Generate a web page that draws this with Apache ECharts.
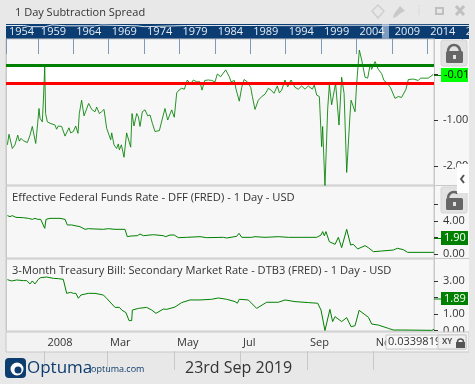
<!DOCTYPE html>
<html lang="en">
  <head>
    <meta charset="UTF-8" />
    <title>1 Day Subtraction Spread</title>
    <script src="https://cdn.jsdelivr.net/npm/echarts@6/dist/echarts.min.js"></script>
    <style>
      body { margin: 0; background: #e8e8e8; }
    </style>
  </head>

  <body>
    <div id="main" style="width: 475px; height: 384px"></div>

    <script type="text/javascript">
      // x values are days from the start of 2008
      var spreadDays = [-33.8,-32.3,-29.3,-26.9,-24.4,-22.9,-21.4,-19.3,-17.8,-15.6,-13.2,-11.1,-9.6,-8,-6.2,-5,-4.1,-2,-1,0.2,1,2.6,5,9.6,11,12.6,15.6,18.7,20.2,22.3,23.8,26.3,28.4,30.5,31.7,33.8,36,37.8,40.2,43,46,47.5,50,52,54.2,56.6,58.1,60.3,61.2,63.3,65.7,67.2,68.2,70,72.4,74.8,78.5,79.7,81.5,84,85.5,87,89.1,91.5,94,96.1,98.2,100.6,104.6,108.2,109.7,112.2,115.8,118.2,120.4,122.5,124.9,127.4,130,133,135.6,138.6,141.6,143.4,145.9,149.2,152.2,155.3,157.4,160.4,165,168.3,169.9,172.9,174.4,176.2,177.4,179.6,181.7,184.7,187.8,189.3,191.7,194.7,197.8,200.8,203.9,206.3,209,212,213.9,216,219,221.5,224.5,228.1,231.2,234.2,237.2,240.2,243.9,245.7,247.9,250.3,252.4,253.3,255.4,257.9,259.4,261.5,263,265.1,268.2,270.6,272.8,275.2,278.2,279.2,282.8,284.3,286.7,288.9,291.9,294.3,296.7,297.9,301,304,307,309.1,312.2,315.2,319.2,322.2,325.2,329.2,331.3,335.8,340.4,342.5,349.5,354];
      var spreadValues = [-1.54,-1.31,-1.62,-1.54,-1.33,-1.46,-1.40,-1.45,-1.43,-1.49,-1.33,-1.14,-1.13,-1.51,-1.07,-0.75,-0.96,-1.04,-0.57,0.16,-0.86,-1.04,-1.07,-1.11,-1.20,-1.13,-1.14,-1.35,-1.36,-1.17,-1.28,-1.25,-1.13,-1.29,-0.86,-0.57,-0.91,-0.91,-0.64,-0.77,-0.82,-0.72,-0.86,-0.82,-0.77,-1.18,-1.20,-1.43,-1.28,-1.54,-1.62,-1.52,-1.65,-1.54,-1.81,-1.28,-1.59,-0.86,-1.13,-0.86,-0.93,-1.14,-0.82,-0.78,-0.91,-0.89,-1.07,-1.25,-1.23,-0.89,-0.75,-1.0,-0.78,-0.94,-0.41,-0.35,-0.31,-0.33,-0.13,-0.22,-0.13,-0.17,-0.17,-0.35,-0.14,-0.13,-0.14,-0.17,0,-0.06,0.09,-0.06,-0.17,-0.14,-0.33,-0.35,-0.59,-0.29,-0.12,-0.17,-0.29,-0.49,-0.77,-0.57,-0.49,-0.44,-0.31,-0.35,-0.42,-0.26,-0.41,-0.35,-0.13,-0.28,-0.13,-0.29,-0.33,-0.26,-0.33,-0.26,-0.33,-0.24,-0.46,-0.49,-1.58,-1.14,-2.45,-0.75,-0.24,-0.67,-0.67,-0.20,-1.11,-0.07,-0.42,-2.14,-0.89,-0.57,-0.82,-0.20,0.52,0.30,-0.07,-0.09,0.22,0.10,0.27,0.10,0.01,-0.14,-0.20,-0.30,-0.53,-0.49,-0.51,-0.33,-0.12,-0.11,-0.14,-0.09,-0.09,-0.01];

      var dffDays = [-33.8,-31.4,-29.3,-26,-19.3,-14.7,-11.1,-8.7,-6.2,-3.5,-1.7,0.2,1.4,5,14.1,18.7,20.8,24.7,27.8,32.3,36.9,39.9,46,53.6,58.1,64.2,73.3,75.4,78.8,84.5,87,90,99.2,108.2,110.4,114.3,118.2,121.9,129.5,141.6,147.6,162.9,165.9,175,177.1,179.6,188.7,191.7,200.8,213,222,247.9,251.8,253.3,254.8,256.3,259.4,264.6,267.6,270.6,275.2,278.8,281.2,285.2,291.9,294.9,299.5,307,317.6,321.3,326.7,330.7,354.7];
      var dffValues = [4.65,4.53,4.65,4.44,4.40,4.32,4.20,4.32,4.20,4.2,4.12,3.11,4.2,4.32,4.32,4.2,3.52,3.52,3.43,3.31,2.99,3.07,3.03,2.99,3.07,2.99,2.99,2.10,2.18,2.22,2.42,2.22,2.34,2.22,2.10,2.30,2.30,1.98,2.02,2.10,1.98,2.02,1.94,2.14,2.51,2.02,2.02,2.10,2.02,2.10,2.02,2.02,2.30,2.71,2.22,2.71,1.49,1.17,2.02,0.77,2.99,1.09,1.17,0.61,1.01,0.77,0.28,0.36,0.48,0.69,0.53,0.2,0.2];

      var tbillDays = [-33.8,-29.9,-25.3,-19.3,-16.2,-13.2,-11.1,-8.7,-5.6,-3.5,-1.7,2,8,12.6,17.1,20.2,23.8,26.3,28.7,30.8,33.2,34.8,39.9,46,53.6,56.6,64.2,68.2,70.3,74.2,77,79.4,80,85.5,93,97.6,101.5,108.2,111.3,118.8,124.9,132.5,141.6,152.2,158.3,165.9,173.5,175.6,177.4,185.6,193.2,202.3,212.9,219,228.1,240.3,248.8,251.8,255.4,259.9,262.4,264.6,270.6,275.2,279.2,282.8,286.5,295,298,304,313.1,317.7,325.2,352.6,354.7];
      var tbillValues = [3.08,3.0,3.06,3.02,3.02,2.82,3.0,2.82,3.1,3.2,3.12,3.24,3.16,3.14,3.1,2.25,2.31,2.25,2.25,1.95,2.15,2.05,2.25,2.25,2.15,1.95,1.4,1.4,1.24,1.08,0.6,0.6,1.24,1.34,1.4,1.24,1.04,1.3,1.28,1.42,1.69,1.85,1.85,1.89,1.97,1.89,1.75,1.65,1.89,1.85,1.34,1.71,1.71,1.85,1.75,1.69,1.65,1.24,0,1.28,0.54,0.84,0.54,0.78,0.23,0.29,1.22,0.8,0.39,0.33,0.13,0.03,0.03,0.01,0.07];

      var upperLevel = 0.19;
      var lowerLevel = -0.2;

      var monthTicks = [0, 57, 118, 178, 239, 299];
      var monthLabels = ["2008", "Mar", "May", "Jul", "Sep", "Nov"];
      var yearTicks = [1954.5, 1959, 1964, 1969, 1974, 1979, 1984, 1989, 1994, 1999, 2004, 2009, 2014, 2019];
      var yearLabels = ["1954", "1959", "1964", "1969", "1974", "1979", "1984", "1989", "1994", "1999", "2004", "2009", "2014", "2"];

      var overviewYears = [1954.5, 1957, 1958, 1960, 1961, 1963, 1967, 1968, 1973, 1974, 1980, 1984, 1990, 1998, 2001, 2007, 2019.9];
      var overviewValues = [0.9, 0.9, 0.82, 0.82, 0.94, 0.88, 0.88, 0.93, 0.88, 0.82, 0.9, 0.9, 0.9, 0.88, 0.92, 0.92, 0.9];

      var spreadTicks = [0, -1, -2];
      var spreadTickLabels = [-1, -2];
      var dffTicks = [0, 2, 4, 6];
      var dffTickLabels = [0, 4];
      var tbillTicks = [0, 1, 2, 3];
      var tbillTickLabels = [0, 1, 3];

      var dayMin = -35.06;
      var dayMax = 354.7;
      var font = "Open Sans";
      var lineGreen = "#008000";
      var rule = "#c8c8c8";

      function pairs(xs, ys) {
        return xs.map(function (x, i) {
          return [x, ys[i]];
        });
      }

      function valueAxis(gridIndex, min, max, ticks, labels) {
        return {
          type: "value",
          gridIndex: gridIndex,
          position: "right",
          min: min,
          max: max,
          splitLine: { show: false },
          axisLine: { show: true, onZero: false, lineStyle: { color: rule } },
          axisTick: { show: true, length: 4, customValues: ticks, lineStyle: { color: "#333" } },
          axisLabel: {
            customValues: labels,
            margin: 9,
            fontFamily: font,
            fontSize: 11,
            color: "#333",
            formatter: function (v) {
              return v.toFixed(2);
            },
          },
        };
      }

      function dayAxis(gridIndex) {
        return { type: "value", gridIndex: gridIndex, min: dayMin, max: dayMax, show: false };
      }

      function lineSeries(name, axisIndex, data) {
        return {
          name: name,
          type: "line",
          xAxisIndex: axisIndex,
          yAxisIndex: axisIndex,
          data: data,
          symbol: "none",
          silent: true,
          lineStyle: { color: lineGreen, width: 1 },
        };
      }

      // little padlock for the price scales
      function lockIcon(x, y, open) {
        return [
          { type: "rect", z: 6, shape: { x: x, y: y, width: 26, height: 26, r: 2 }, style: { fill: "#e2e2e2", stroke: "#d4d4d4" } },
          {
            type: "arc",
            z: 7,
            shape: { cx: x + 13, cy: y + 11, r: 6, startAngle: Math.PI, endAngle: open ? Math.PI * 1.7 : Math.PI * 2 },
            style: { stroke: "#666", lineWidth: 2.5, fill: null },
          },
          { type: "rect", z: 7, shape: { x: x + 5, y: y + 11, width: 17, height: 12, r: 1.5 }, style: { fill: "#666" } },
          { type: "rect", z: 8, shape: { x: x + 12, y: y + 15, width: 3, height: 4 }, style: { fill: "#e2e2e2" } },
        ];
      }

      function priceBox(y, h, fill, color, label) {
        return [
          { type: "rect", z: 6, shape: { x: 434, y: y + h / 2, width: 7, height: 1 }, style: { fill: lineGreen } },
          { type: "rect", z: 6, shape: { x: 441, y: y, width: 27, height: h }, style: { fill: fill } },
          {
            type: "text",
            z: 7,
            x: 444,
            y: y + h / 2,
            style: { text: label, fill: color, font: "11px 'Open Sans'", verticalAlign: "middle" },
          },
        ];
      }

      var chrome = [
        // gutter behind the price scales
        { type: "rect", z: -5, shape: { x: 6, y: 39, width: 463, height: 293 }, style: { fill: "#f7f7f7" } },
        { type: "rect", z: 2, shape: { x: 434, y: 185, width: 35, height: 1 }, style: { fill: rule } },
        { type: "rect", z: 2, shape: { x: 434, y: 258, width: 35, height: 1 }, style: { fill: rule } },
        { type: "rect", z: 2, shape: { x: 6, y: 39, width: 1, height: 312 }, style: { fill: rule } },
        { type: "rect", z: 3, shape: { x: 6, y: 332, width: 463, height: 20 }, style: { fill: "#f3f3f3", stroke: rule } },
        { type: "rect", z: 9, shape: { x: 469, y: 0, width: 6, height: 384 }, style: { fill: "#e8e8e8" } },

        // window buttons
        { type: "polygon", z: 6, shape: { points: [[378, 5], [384, 11], [378, 18], [372, 11]] }, style: { fill: null, stroke: "#cfcfcf", lineWidth: 1.5 } },
        { type: "polygon", z: 6, shape: { points: [[400, 6], [405, 11], [401, 13], [396, 17], [393, 18], [394, 14], [397, 10]] }, style: { fill: "#c8c8c8" } },
        { type: "text", z: 6, x: 417, y: 5, style: { text: "i", fill: "#e0e0e0", font: "bold 13px 'Open Sans'" } },
        { type: "rect", z: 6, shape: { x: 436, y: 8, width: 7, height: 6 }, style: { fill: null, stroke: "#c0c0c0", lineWidth: 2 } },
        { type: "line", z: 6, shape: { x1: 456, y1: 6, x2: 464, y2: 15 }, style: { stroke: "#c0c0c0", lineWidth: 3 } },
        { type: "line", z: 6, shape: { x1: 464, y1: 6, x2: 456, y2: 15 }, style: { stroke: "#c0c0c0", lineWidth: 3 } },

        // side tab
        { type: "rect", z: 8, shape: { x: 457, y: 164, width: 12, height: 29 }, style: { fill: "#ffffff" } },
        { type: "polyline", z: 9, shape: { points: [[464, 175], [461, 179], [464, 183]] }, style: { stroke: "#555", lineWidth: 2, fill: null } },

        // cursor readout
        { type: "rect", z: 8, shape: { x: 386, y: 335, width: 80, height: 14 }, style: { fill: "#f8f8f8", stroke: rule } },
        { type: "text", z: 9, x: 388, y: 342, style: { text: "0.0339819", fill: "#333", font: "11px 'Open Sans'", verticalAlign: "middle" } },
        { type: "rect", z: 10, shape: { x: 438, y: 335, width: 28, height: 14 }, style: { fill: "#f0f0f0", stroke: rule } },
        { type: "text", z: 11, x: 442, y: 342, style: { text: "XY", fill: "#555", font: "bold 8px 'Open Sans'", verticalAlign: "middle" } },
        { type: "rect", z: 11, shape: { x: 456, y: 342, width: 9, height: 6 }, style: { fill: "#555" } },
        { type: "arc", z: 11, shape: { cx: 460.5, cy: 342, r: 3, startAngle: Math.PI, endAngle: Math.PI * 2 }, style: { stroke: "#555", lineWidth: 1.5, fill: null } },

        // footer
        { type: "rect", z: 6, shape: { x: 5, y: 358, width: 21, height: 20, r: 4 }, style: { fill: "#0d3c6e" } },
        { type: "circle", z: 7, shape: { cx: 17, cy: 369, r: 6.5 }, style: { fill: "#ffffff" } },
        { type: "circle", z: 8, shape: { cx: 18, cy: 370, r: 3.5 }, style: { fill: "#0d3c6e" } },
        { type: "text", z: 7, x: 27, y: 368, style: { text: "Optuma", fill: "#0d3c6e", font: "17px 'Open Sans'", verticalAlign: "middle" } },
        { type: "text", z: 7, x: 91, y: 369, style: { text: "optuma.com", fill: "#0d3c6e", font: "9px 'Open Sans'", verticalAlign: "middle" } },
        { type: "text", z: 7, x: 185, y: 368, style: { text: "23rd Sep 2019", fill: "#333", font: "16px 'Open Sans'", verticalAlign: "middle" } },
      ]
        .concat(lockIcon(441, 40, false))
        .concat(lockIcon(441, 187, true))
        .concat(priceBox(68, 14, "#00ff00", "#000", "-0.01"))
        .concat(priceBox(231, 14, "#008000", "#fff", "1.90"))
        .concat(priceBox(292, 13, "#008000", "#fff", "1.89"));

      var myChart = echarts.init(document.getElementById("main"));

      var option = {
        animation: false,
        backgroundColor: "#e8e8e8",
        title: [
          { text: "1 Day Subtraction Spread", left: 15, top: 7, padding: 0, textStyle: { fontFamily: font, fontSize: 11, fontWeight: "normal", color: "#333" } },
          { text: "Effective Federal Funds Rate - DFF (FRED) - 1 Day - USD", left: 12, top: 192, padding: 0, textStyle: { fontFamily: font, fontSize: 11.2, fontWeight: "normal", color: "#333" } },
          { text: "3-Month Treasury Bill: Secondary Market Rate - DTB3 (FRED) - 1 Day - USD", left: 12, top: 265, padding: 0, textStyle: { fontFamily: font, fontSize: 11.1, fontWeight: "normal", color: "#333" } },
        ],
        grid: [
          { left: 6, top: 24, width: 463, height: 15, show: true, backgroundColor: "#0b3d73", borderWidth: 0 },
          { left: 6, top: 39, width: 428, height: 146, show: true, backgroundColor: "#f7f7f7", borderColor: rule },
          { left: 6, top: 186, width: 428, height: 72, show: true, backgroundColor: "#f7f7f7", borderColor: rule },
          { left: 6, top: 259, width: 428, height: 72, show: true, backgroundColor: "#f7f7f7", borderColor: rule },
          { left: 6, top: 332, width: 428, height: 19, show: false },
        ],
        xAxis: [
          {
            type: "value",
            gridIndex: 0,
            position: "top",
            z: 4,
            min: 1954.5,
            max: 2019.9,
            splitLine: { show: false },
            axisLine: { show: false },
            axisTick: { show: true, inside: true, length: 15, customValues: yearTicks, lineStyle: { color: "#7d99b8" } },
            axisLabel: {
              inside: true,
              customValues: yearTicks,
              margin: 2,
              align: "left",
              padding: [0, 0, 0, 3],
              fontFamily: font,
              fontSize: 11,
              color: "#e6ecf2",
              formatter: function (v) {
                return yearLabels[yearTicks.indexOf(v)];
              },
            },
          },
          dayAxis(1),
          dayAxis(2),
          dayAxis(3),
          {
            type: "value",
            gridIndex: 4,
            position: "top",
            z: 5,
            min: dayMin,
            max: dayMax,
            splitLine: { show: false },
            axisLine: { show: false },
            axisTick: { show: true, inside: true, length: 19, customValues: monthTicks, lineStyle: { color: rule } },
            axisLabel: {
              inside: true,
              customValues: monthTicks,
              margin: 5,
              align: "left",
              padding: [0, 0, 0, 3],
              fontFamily: font,
              fontSize: 11,
              color: "#333",
              formatter: function (v) {
                return monthLabels[monthTicks.indexOf(v)];
              },
            },
          },
        ],
        yAxis: [
          { type: "value", gridIndex: 0, min: 0, max: 1, show: false },
          valueAxis(1, -2.413, 0.761, spreadTicks, spreadTickLabels),
          valueAxis(2, -0.485, 8.24, dffTicks, dffTickLabels),
          valueAxis(3, -0.03, 4.33, tbillTicks, tbillTickLabels),
          { type: "value", gridIndex: 4, min: 0, max: 1, show: false },
        ],
        series: [
          {
            name: "Overview",
            type: "line",
            xAxisIndex: 0,
            yAxisIndex: 0,
            data: pairs(overviewYears, overviewValues),
            symbol: "none",
            silent: true,
            lineStyle: { color: "#dfe7ef", width: 1 },
            markArea: {
              silent: true,
              itemStyle: { color: "#7f9bbd" },
              data: [[{ xAxis: 2007.6, yAxis: 0 }, { xAxis: 2008.6, yAxis: 1 }]],
            },
          },
          Object.assign(lineSeries("1 Day Subtraction Spread", 1, pairs(spreadDays, spreadValues)), {
            lineStyle: { color: lineGreen, width: 1, opacity: 0.85 },
            markArea: {
              silent: true,
              itemStyle: { color: "#ffffff" },
              data: [[{ yAxis: upperLevel }, { yAxis: lowerLevel }]],
            },
            markLine: {
              silent: true,
              symbol: "none",
              label: { show: false },
              data: [
                { yAxis: upperLevel, lineStyle: { color: "#008000", width: 3, type: "solid" } },
                { yAxis: lowerLevel, lineStyle: { color: "#ff0000", width: 3, type: "solid" } },
              ],
            },
          }),
          lineSeries("DFF", 2, pairs(dffDays, dffValues)),
          lineSeries("DTB3", 3, pairs(tbillDays, tbillValues)),
        ],
        graphic: chrome,
      };

      myChart.setOption(option);
    </script>
  </body>
</html>
